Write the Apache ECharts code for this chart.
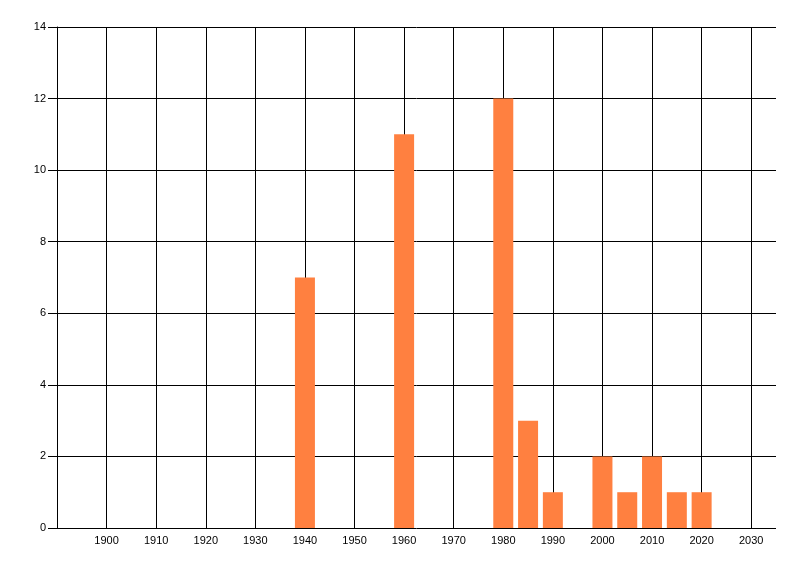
<!DOCTYPE html>
<html>
<head>
<meta charset="utf-8">
<script src="https://cdn.jsdelivr.net/npm/echarts@6/dist/echarts.min.js"></script>
<style>
  html, body { margin: 0; padding: 0; background: #fff; }
  #chart { width: 800px; height: 576px; }
</style>
</head>
<body>
<div id="chart"></div>
<script>
// data
const years = [1940, 1960, 1980, 1985, 1990, 2000, 2005, 2010, 2015, 2020];
const counts = [7, 11, 12, 3, 1, 2, 1, 2, 1, 1];

const chart = echarts.init(document.getElementById('chart'));

const axisFont = { color: '#000', fontSize: 11, fontFamily: 'Liberation Sans, Arial, sans-serif' };

chart.setOption({
  animation: false,
  grid: { left: 57, right: 24, top: 27, bottom: 48 },
  xAxis: {
    type: 'value',
    min: 1890,
    max: 2035,
    interval: 10,
    axisLine: { show: false },
    axisTick: { show: false },
    axisLabel: Object.assign({ margin: 7, showMinLabel: false, showMaxLabel: false, formatter: v => String(v) }, axisFont),
    splitLine: { show: true, showMinLine: false, showMaxLine: false, lineStyle: { color: '#000', width: 1 } }
  },
  yAxis: {
    type: 'value',
    min: 0,
    max: 14,
    interval: 2,
    axisLine: { show: true, lineStyle: { color: '#000', width: 1 } },
    axisTick: { show: true, length: 9, lineStyle: { color: '#000' } },
    axisLabel: Object.assign({ margin: 11 }, axisFont),
    splitLine: { show: true, lineStyle: { color: '#000', width: 1 } }
  },
  series: [{
    type: 'bar',
    barWidth: 20,
    itemStyle: { color: '#FF8040' },
    data: years.map((y, i) => [y, counts[i]])
  }]
});
</script>
</body>
</html>
